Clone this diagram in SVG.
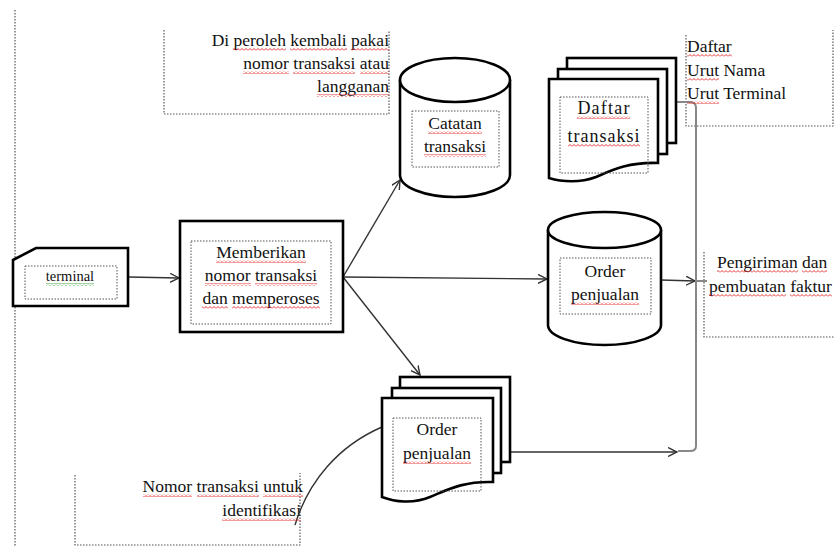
<svg xmlns="http://www.w3.org/2000/svg" width="834" height="546" viewBox="0 0 834 546">
  <style>
    text { font-family: "Liberation Serif", "Times New Roman", serif; font-size: 17.5px; fill: #111; }
    .shape { fill: #fff; stroke: #000; stroke-width: 2.6; stroke-linejoin: miter; }
    .inner { fill: none; stroke: #555; stroke-width: 1; stroke-dasharray: 1.5 1.5; }
    .note { fill: none; stroke: #555; stroke-width: 1.2; stroke-dasharray: 1.5 1.5; }
    .flow { fill: none; stroke: #333; stroke-width: 1.4; }
    .bus { fill: none; stroke: #888; stroke-width: 2; }
    .sq { fill: url(#wavy-red); }
    .sqg { fill: url(#wavy-green); }
    .mid { text-anchor: middle; }
    .end { text-anchor: end; }
  </style>
  <defs>
    <marker id="arrow" viewBox="0 0 10 10" refX="9" refY="5" markerWidth="10" markerHeight="10" markerUnits="userSpaceOnUse" orient="auto">
      <path d="M0,0.5 L9,5 L0,9.5" fill="none" stroke="#333" stroke-width="1.4"/>
    </marker>
    <!-- spell-check style wavy underlines -->
    <pattern id="wavy-red" width="4" height="3" patternUnits="userSpaceOnUse">
      <path d="M0,2.5 L2,0.5 L4,2.5" fill="none" stroke="#e02020" stroke-width="0.9"/>
    </pattern>
    <pattern id="wavy-green" width="4" height="3" patternUnits="userSpaceOnUse">
      <path d="M0,2.5 L2,0.5 L4,2.5" fill="none" stroke="#30a030" stroke-width="0.9"/>
    </pattern>
  </defs>

  <rect width="834" height="546" fill="#fff"/>

  <!-- annotation brackets -->
  <g id="notes">
    <path class="note" d="M15,10 V546"/>
    <path class="note" d="M164,30 V114 H389 V30"/>
    <path class="note" d="M686,35 V126 H833 V30"/>
    <path class="note" d="M704,252 V337 H834"/>
    <path class="note" d="M75,475 V545 H300 V473"/>
  </g>

  <g id="note-reuse">
    <text class="end" x="389" y="46">Di peroleh kembali pakai</text>
    <text class="end" x="389" y="69">nomor transaksi atau</text>
    <text class="end" x="389" y="92">langganan</text>
  </g>

  <g id="note-sorting">
    <text x="687" y="52">Daftar</text>
    <text x="687" y="76">Urut Nama</text>
    <text x="687" y="99">Urut Terminal</text>
  </g>

  <g id="note-shipping">
    <text x="717" y="268">Pengiriman dan</text>
    <text x="709" y="292">pembuatan faktur</text>
  </g>

  <g id="note-identify">
    <text class="end" x="303" y="492">Nomor transaksi untuk</text>
    <text class="end" x="301" y="516">identifikasi</text>
  </g>

  <!-- connectors -->
  <g id="connectors">
    <path class="flow" d="M128,277 L179,278" marker-end="url(#arrow)"/>
    <path class="flow" d="M343,277 L400,180" marker-end="url(#arrow)"/>
    <path class="flow" d="M343,277 L547,279" marker-end="url(#arrow)"/>
    <path class="flow" d="M343,277 L420,375" marker-end="url(#arrow)"/>
    <path class="flow" d="M661,280 L695,281" marker-end="url(#arrow)"/>
    <path class="flow" d="M510,452 L677,452" marker-end="url(#arrow)"/>
    <path class="bus" d="M676,102 H690 Q696,102 696,108 V446 Q696,451 690,451 H678"/>
    <path class="bus" d="M696,281 H707"/>
    <path class="flow" d="M295,525 C308,482 338,446 382,427"/>
  </g>

  <!-- terminal -->
  <g id="terminal">
    <path class="shape" d="M13,260 L36,248 H128 V306 H13 Z"/>
    <rect class="inner" x="25" y="266" width="92" height="33"/>
    <text class="mid" x="70" y="281" style="font-size:14.5px">terminal</text>
  </g>

  <!-- process -->
  <g id="process">
    <rect class="shape" x="180" y="221" width="163" height="111"/>
    <rect class="inner" x="191" y="241" width="140" height="83"/>
    <text class="mid" x="261" y="258">Memberikan</text>
    <text class="mid" x="261" y="281">nomor transaksi</text>
    <text class="mid" x="261" y="304">dan memperoses</text>
  </g>

  <!-- transaction log store -->
  <g id="catatan-transaksi">
    <path class="shape" d="M400,80 V175 A55,22 0 0 0 510,175 V80"/>
    <ellipse class="shape" cx="455" cy="80" rx="55" ry="22"/>
    <rect class="inner" x="412" y="111" width="87" height="56"/>
    <text class="mid" x="455" y="129">Catatan</text>
    <text class="mid" x="455" y="152">transaksi</text>
  </g>

  <!-- transaction list documents -->
  <g id="daftar-transaksi">
    <rect class="shape" x="567" y="58" width="109" height="85"/>
    <rect class="shape" x="558" y="69" width="109" height="85"/>
    <path class="shape" d="M549,79 H658 V163 C628,162 612,170 596,177 C580,183 562,182 549,178 Z"/>
    <rect class="inner" x="560" y="97" width="88" height="76"/>
    <text class="mid" x="604" y="114" style="font-size:18px;letter-spacing:1.2px">Daftar</text>
    <text class="mid" x="604" y="142" style="font-size:18px;letter-spacing:1px">transaksi</text>
  </g>

  <!-- sales order store -->
  <g id="order-store">
    <path class="shape" d="M548,230 V325 A56.5,20 0 0 0 661,325 V230"/>
    <ellipse class="shape" cx="604.5" cy="230" rx="56.5" ry="18"/>
    <rect class="inner" x="560" y="258" width="91" height="56"/>
    <text class="mid" x="605" y="277">Order</text>
    <text class="mid" x="605" y="300">penjualan</text>
  </g>

  <!-- sales order documents -->
  <g id="order-docs">
    <rect class="shape" x="400" y="377" width="110" height="85"/>
    <rect class="shape" x="392" y="388" width="109" height="85"/>
    <path class="shape" d="M382,398 H493 V482 C463,481 447,490 430,497 C413,504 395,502 382,497 Z"/>
    <rect class="inner" x="393" y="418" width="88" height="73"/>
    <text class="mid" x="437" y="435">Order</text>
    <text class="mid" x="437" y="459">penjualan</text>
  </g>

  <!-- spelling underlines beneath words -->
  <g id="underlines">
    <rect class="sq" x="233" y="48" width="53" height="3"/>
    <rect class="sq" x="290" y="48" width="57" height="3"/>
    <rect class="sq" x="351" y="48" width="38" height="3"/>
    <rect class="sq" x="243" y="71" width="46" height="3"/>
    <rect class="sq" x="293" y="71" width="62" height="3"/>
    <rect class="sq" x="360" y="71" width="29" height="3"/>
    <rect class="sq" x="317" y="94" width="72" height="3"/>

    <rect class="sq" x="687" y="54" width="45" height="3"/>
    <rect class="sq" x="687" y="78" width="32" height="3"/>
    <rect class="sq" x="687" y="101" width="32" height="3"/>

    <rect class="sq" x="717" y="270" width="81" height="3"/>
    <rect class="sq" x="802" y="270" width="25" height="3"/>
    <rect class="sq" x="709" y="294" width="77" height="3"/>
    <rect class="sq" x="790" y="294" width="42" height="3"/>

    <rect class="sq" x="143" y="494" width="49" height="3"/>
    <rect class="sq" x="197" y="494" width="62" height="3"/>
    <rect class="sq" x="263" y="494" width="40" height="3"/>
    <rect class="sq" x="222" y="518" width="79" height="3"/>

    <rect class="sqg" x="46" y="283" width="48" height="3"/>

    <rect class="sq" x="216" y="260" width="90" height="3"/>
    <rect class="sq" x="205" y="283" width="46" height="3"/>
    <rect class="sq" x="255" y="283" width="62" height="3"/>
    <rect class="sq" x="202" y="306" width="26" height="3"/>
    <rect class="sq" x="232" y="306" width="88" height="3"/>

    <rect class="sq" x="428" y="131" width="54" height="3"/>
    <rect class="sq" x="424" y="154" width="62" height="3"/>

    <rect class="sq" x="577" y="116" width="53" height="3"/>
    <rect class="sq" x="568" y="144" width="72" height="3"/>

    <rect class="sq" x="571" y="302" width="68" height="3"/>
    <rect class="sq" x="403" y="461" width="68" height="3"/>
  </g>
</svg>
